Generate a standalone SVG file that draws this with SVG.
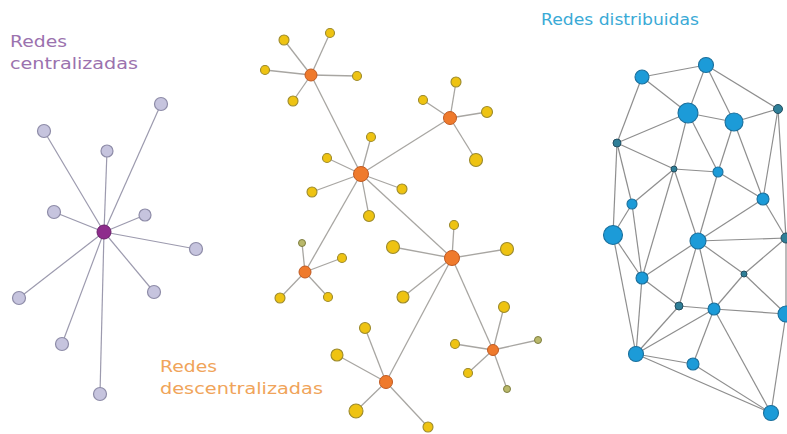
<svg xmlns="http://www.w3.org/2000/svg" width="787" height="434" viewBox="0 0 787 434">
<style>
text{font-family:"DejaVu Sans","Liberation Sans",sans-serif;font-size:15px;}
.t1{fill:#9b72ae;}
.t2{fill:#f0a45a;}
.t3{fill:#3aaad6;}
.ec line{stroke:#9c9aae;stroke-width:1.2;}
.ed line{stroke:#a8a6a2;stroke-width:1.3;}
.ei line{stroke:#8e8e8e;stroke-width:1.2;}
.lc{fill:#c6c4de;stroke:#8e8ca8;stroke-width:1.2;}
.hc{fill:#8e2c8c;stroke:#6a1f6a;stroke-width:1;}
.ly{fill:#eec312;stroke:#9c8a2c;stroke-width:1.1;}
.lg{fill:#b9b86a;stroke:#7e7e40;stroke-width:1;}
.ho{fill:#ef7a2c;stroke:#c05a22;stroke-width:1;}
.nb{fill:#1c9bd8;stroke:#1a6f9c;stroke-width:1.1;}
.nd{fill:#2f7f98;stroke:#244e60;stroke-width:1;}
</style>
<rect width="787" height="434" fill="#ffffff"/>

<g id="labels">
<text class="t1" x="10" y="47" textLength="57" lengthAdjust="spacingAndGlyphs">Redes</text>
<text class="t1" x="10" y="69" textLength="128" lengthAdjust="spacingAndGlyphs">centralizadas</text>
<text class="t2" x="160" y="372" textLength="57" lengthAdjust="spacingAndGlyphs">Redes</text>
<text class="t2" x="160" y="394" textLength="163" lengthAdjust="spacingAndGlyphs">descentralizadas</text>
<text class="t3" x="541" y="25" textLength="158" lengthAdjust="spacingAndGlyphs">Redes distribuidas</text>
</g>

<g id="connectors">
<g class="ec">
<line x1="104" y1="232" x2="161" y2="104"/>
<line x1="104" y1="232" x2="44" y2="131"/>
<line x1="104" y1="232" x2="107" y2="151"/>
<line x1="104" y1="232" x2="54" y2="212"/>
<line x1="104" y1="232" x2="145" y2="215"/>
<line x1="104" y1="232" x2="196" y2="249"/>
<line x1="104" y1="232" x2="19" y2="298"/>
<line x1="104" y1="232" x2="154" y2="292"/>
<line x1="104" y1="232" x2="62" y2="344"/>
<line x1="104" y1="232" x2="100" y2="394"/>
</g>
<g class="ed">
<line x1="311" y1="75" x2="361" y2="174"/>
<line x1="361" y1="174" x2="450" y2="118"/>
<line x1="361" y1="174" x2="305" y2="272"/>
<line x1="361" y1="174" x2="452" y2="258"/>
<line x1="452" y1="258" x2="386" y2="382"/>
<line x1="452" y1="258" x2="493" y2="350"/>
<line x1="311" y1="75" x2="284" y2="40"/>
<line x1="311" y1="75" x2="330" y2="33"/>
<line x1="311" y1="75" x2="265" y2="70"/>
<line x1="311" y1="75" x2="357" y2="76"/>
<line x1="311" y1="75" x2="293" y2="101"/>
<line x1="450" y1="118" x2="456" y2="82"/>
<line x1="450" y1="118" x2="423" y2="100"/>
<line x1="450" y1="118" x2="487" y2="112"/>
<line x1="450" y1="118" x2="476" y2="160"/>
<line x1="361" y1="174" x2="371" y2="137"/>
<line x1="361" y1="174" x2="327" y2="158"/>
<line x1="361" y1="174" x2="312" y2="192"/>
<line x1="361" y1="174" x2="402" y2="189"/>
<line x1="361" y1="174" x2="369" y2="216"/>
<line x1="305" y1="272" x2="302" y2="243"/>
<line x1="305" y1="272" x2="342" y2="258"/>
<line x1="305" y1="272" x2="280" y2="298"/>
<line x1="305" y1="272" x2="328" y2="297"/>
<line x1="452" y1="258" x2="393" y2="247"/>
<line x1="452" y1="258" x2="454" y2="225"/>
<line x1="452" y1="258" x2="507" y2="249"/>
<line x1="452" y1="258" x2="403" y2="297"/>
<line x1="493" y1="350" x2="504" y2="307"/>
<line x1="493" y1="350" x2="455" y2="344"/>
<line x1="493" y1="350" x2="538" y2="340"/>
<line x1="493" y1="350" x2="468" y2="373"/>
<line x1="493" y1="350" x2="507" y2="389"/>
<line x1="386" y1="382" x2="365" y2="328"/>
<line x1="386" y1="382" x2="337" y2="355"/>
<line x1="386" y1="382" x2="356" y2="411"/>
<line x1="386" y1="382" x2="428" y2="427"/>
</g>
<g class="ei">
<line x1="642" y1="77" x2="706" y2="65"/>
<line x1="642" y1="77" x2="688" y2="113"/>
<line x1="642" y1="77" x2="617" y2="143"/>
<line x1="706" y1="65" x2="688" y2="113"/>
<line x1="706" y1="65" x2="734" y2="122"/>
<line x1="706" y1="65" x2="778" y2="109"/>
<line x1="688" y1="113" x2="734" y2="122"/>
<line x1="688" y1="113" x2="617" y2="143"/>
<line x1="688" y1="113" x2="674" y2="169"/>
<line x1="688" y1="113" x2="718" y2="172"/>
<line x1="734" y1="122" x2="778" y2="109"/>
<line x1="734" y1="122" x2="718" y2="172"/>
<line x1="734" y1="122" x2="763" y2="199"/>
<line x1="778" y1="109" x2="763" y2="199"/>
<line x1="778" y1="109" x2="786" y2="238"/>
<line x1="617" y1="143" x2="674" y2="169"/>
<line x1="617" y1="143" x2="632" y2="204"/>
<line x1="617" y1="143" x2="613" y2="235"/>
<line x1="674" y1="169" x2="632" y2="204"/>
<line x1="674" y1="169" x2="718" y2="172"/>
<line x1="674" y1="169" x2="642" y2="278"/>
<line x1="674" y1="169" x2="698" y2="241"/>
<line x1="718" y1="172" x2="763" y2="199"/>
<line x1="718" y1="172" x2="698" y2="241"/>
<line x1="763" y1="199" x2="698" y2="241"/>
<line x1="763" y1="199" x2="786" y2="238"/>
<line x1="632" y1="204" x2="613" y2="235"/>
<line x1="632" y1="204" x2="642" y2="278"/>
<line x1="613" y1="235" x2="642" y2="278"/>
<line x1="613" y1="235" x2="636" y2="354"/>
<line x1="642" y1="278" x2="636" y2="354"/>
<line x1="642" y1="278" x2="698" y2="241"/>
<line x1="642" y1="278" x2="679" y2="306"/>
<line x1="679" y1="306" x2="698" y2="241"/>
<line x1="679" y1="306" x2="714" y2="309"/>
<line x1="679" y1="306" x2="636" y2="354"/>
<line x1="698" y1="241" x2="714" y2="309"/>
<line x1="698" y1="241" x2="786" y2="238"/>
<line x1="698" y1="241" x2="744" y2="274"/>
<line x1="744" y1="274" x2="786" y2="238"/>
<line x1="744" y1="274" x2="714" y2="309"/>
<line x1="744" y1="274" x2="786" y2="314"/>
<line x1="714" y1="309" x2="786" y2="314"/>
<line x1="714" y1="309" x2="636" y2="354"/>
<line x1="714" y1="309" x2="693" y2="364"/>
<line x1="714" y1="309" x2="771" y2="413"/>
<line x1="636" y1="354" x2="693" y2="364"/>
<line x1="636" y1="354" x2="771" y2="413"/>
<line x1="693" y1="364" x2="771" y2="413"/>
<line x1="786" y1="238" x2="786" y2="314"/>
<line x1="786" y1="314" x2="771" y2="413"/>
</g>
</g>

<g id="centralized">
<circle id="c-hub" class="hc" cx="104" cy="232" r="7"/>
<circle id="c1" class="lc" cx="161" cy="104" r="6.5"/>
<circle id="c2" class="lc" cx="44" cy="131" r="6.5"/>
<circle id="c3" class="lc" cx="107" cy="151" r="6"/>
<circle id="c4" class="lc" cx="54" cy="212" r="6.5"/>
<circle id="c5" class="lc" cx="145" cy="215" r="6"/>
<circle id="c6" class="lc" cx="196" cy="249" r="6.5"/>
<circle id="c7" class="lc" cx="19" cy="298" r="6.5"/>
<circle id="c8" class="lc" cx="154" cy="292" r="6.5"/>
<circle id="c9" class="lc" cx="62" cy="344" r="6.5"/>
<circle id="c10" class="lc" cx="100" cy="394" r="6.5"/>
</g>

<g id="decentralized">
<g id="d-h1"><circle class="ho" cx="311" cy="75" r="6"/>
<circle class="ly" cx="284" cy="40" r="5"/><circle class="ly" cx="330" cy="33" r="4.5"/><circle class="ly" cx="265" cy="70" r="4.5"/><circle class="ly" cx="357" cy="76" r="4.5"/><circle class="ly" cx="293" cy="101" r="5"/></g>
<g id="d-h2"><circle class="ho" cx="450" cy="118" r="6.5"/>
<circle class="ly" cx="456" cy="82" r="5"/><circle class="ly" cx="423" cy="100" r="4.5"/><circle class="ly" cx="487" cy="112" r="5.5"/><circle class="ly" cx="476" cy="160" r="6.5"/></g>
<g id="d-h3"><circle class="ho" cx="361" cy="174" r="7.5"/>
<circle class="ly" cx="371" cy="137" r="4.5"/><circle class="ly" cx="327" cy="158" r="4.5"/><circle class="ly" cx="312" cy="192" r="5"/><circle class="ly" cx="402" cy="189" r="5"/><circle class="ly" cx="369" cy="216" r="5.5"/></g>
<g id="d-h4"><circle class="ho" cx="452" cy="258" r="7.5"/>
<circle class="ly" cx="393" cy="247" r="6.5"/><circle class="ly" cx="454" cy="225" r="4.5"/><circle class="ly" cx="507" cy="249" r="6.5"/><circle class="ly" cx="403" cy="297" r="6"/></g>
<g id="d-h5"><circle class="ho" cx="305" cy="272" r="6"/>
<circle class="lg" cx="302" cy="243" r="3.5"/><circle class="ly" cx="342" cy="258" r="4.5"/><circle class="ly" cx="280" cy="298" r="5"/><circle class="ly" cx="328" cy="297" r="4.5"/></g>
<g id="d-h6"><circle class="ho" cx="493" cy="350" r="5.5"/>
<circle class="ly" cx="504" cy="307" r="5.5"/><circle class="ly" cx="455" cy="344" r="4.5"/><circle class="lg" cx="538" cy="340" r="3.5"/><circle class="ly" cx="468" cy="373" r="4.5"/><circle class="lg" cx="507" cy="389" r="3.5"/></g>
<g id="d-h7"><circle class="ho" cx="386" cy="382" r="6.5"/>
<circle class="ly" cx="365" cy="328" r="5.5"/><circle class="ly" cx="337" cy="355" r="6"/><circle class="ly" cx="356" cy="411" r="7"/><circle class="ly" cx="428" cy="427" r="5"/></g>
</g>

<g id="distributed">
<circle id="n-a" class="nb" cx="642" cy="77" r="7"/>
<circle id="n-b" class="nb" cx="706" cy="65" r="7.5"/>
<circle id="n-c" class="nb" cx="688" cy="113" r="10"/>
<circle id="n-d" class="nb" cx="734" cy="122" r="9"/>
<circle id="n-e" class="nd" cx="778" cy="109" r="4.5"/>
<circle id="n-f" class="nd" cx="617" cy="143" r="4"/>
<circle id="n-g" class="nd" cx="674" cy="169" r="3"/>
<circle id="n-h" class="nb" cx="718" cy="172" r="5"/>
<circle id="n-i" class="nb" cx="763" cy="199" r="6"/>
<circle id="n-j" class="nb" cx="632" cy="204" r="5"/>
<circle id="n-k" class="nb" cx="613" cy="235" r="9.5"/>
<circle id="n-l" class="nb" cx="698" cy="241" r="8"/>
<circle id="n-m" class="nd" cx="786" cy="238" r="5"/>
<circle id="n-n" class="nb" cx="642" cy="278" r="6"/>
<circle id="n-o" class="nd" cx="744" cy="274" r="3"/>
<circle id="n-p" class="nd" cx="679" cy="306" r="4"/>
<circle id="n-q" class="nb" cx="714" cy="309" r="6"/>
<circle id="n-r" class="nb" cx="786" cy="314" r="8"/>
<circle id="n-s" class="nb" cx="636" cy="354" r="7.5"/>
<circle id="n-t" class="nb" cx="693" cy="364" r="6"/>
<circle id="n-u" class="nb" cx="771" cy="413" r="7.5"/>
</g>
</svg>
